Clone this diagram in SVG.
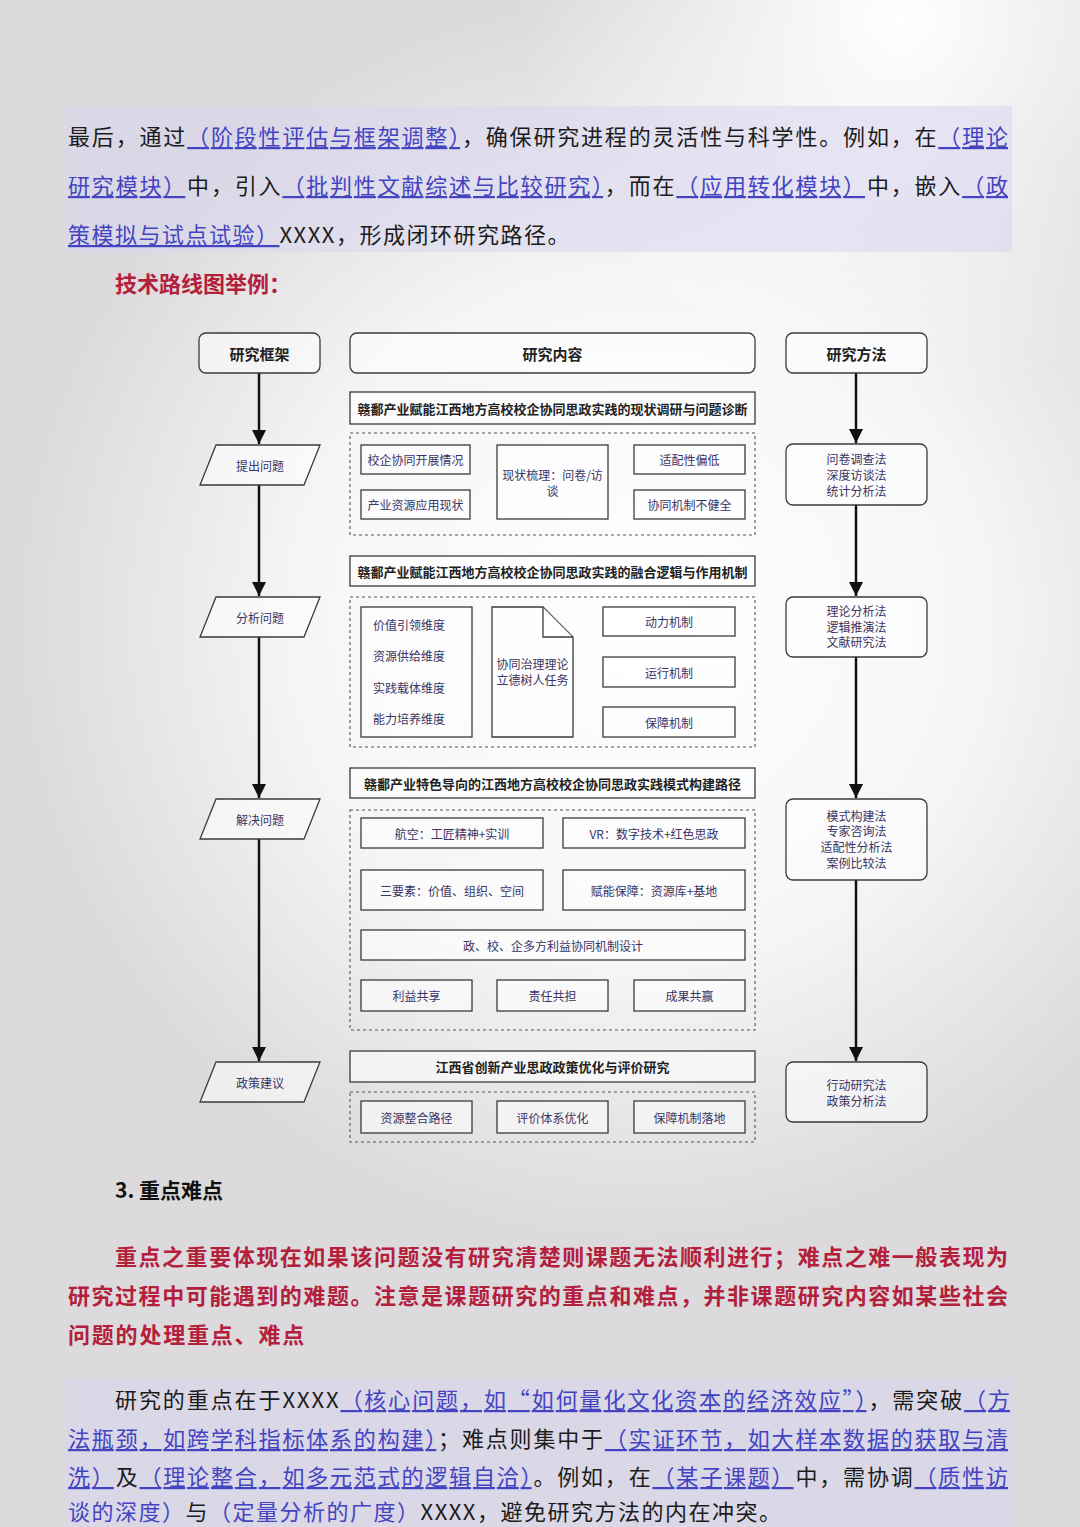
<svg xmlns="http://www.w3.org/2000/svg" width="1080" height="1527" viewBox="0 0 1080 1527">
<defs>
<radialGradient id="glow" cx="640" cy="620" r="620" gradientUnits="userSpaceOnUse">
<stop offset="0" stop-color="#ffffff" stop-opacity="1"/>
<stop offset="0.55" stop-color="#ffffff" stop-opacity="0.75"/>
<stop offset="1" stop-color="#ffffff" stop-opacity="0"/>
</radialGradient>
<radialGradient id="glow2" cx="900" cy="20" r="380" gradientUnits="userSpaceOnUse">
<stop offset="0" stop-color="#ffffff" stop-opacity="1"/>
<stop offset="1" stop-color="#ffffff" stop-opacity="0"/>
</radialGradient>
<marker id="arr" markerUnits="userSpaceOnUse" markerWidth="15" markerHeight="15" refX="14" refY="7" orient="auto">
<path d="M0,0 L14,7 L0,14 Z" fill="#111"/>
</marker>
<style>
.bt{font-family:"Noto Sans CJK SC","Noto Sans",sans-serif;font-size:22px;fill:#1c1c1c}
.bl{fill:#4444c2;text-decoration:underline}
.red{font-family:"Noto Sans CJK SC",sans-serif;font-size:22px;font-weight:bold;fill:#b3203c}
.box{fill:#ffffff;fill-opacity:0.55;stroke:#3b3b3b;stroke-width:1.3}
.dash{fill:none;stroke:#555;stroke-width:1.1;stroke-dasharray:3 3}
.t{font-family:"Noto Sans CJK SC",sans-serif;font-size:12px;fill:#3a3464;text-anchor:middle;dominant-baseline:central}
.tl{font-family:"Noto Sans CJK SC",sans-serif;font-size:12px;fill:#3a3464;dominant-baseline:central}
.tt{font-family:"Noto Sans CJK SC",sans-serif;font-size:13px;font-weight:bold;fill:#222;text-anchor:middle;dominant-baseline:central}
.th{font-family:"Noto Sans CJK SC",sans-serif;font-size:15px;font-weight:bold;fill:#222;text-anchor:middle;dominant-baseline:central}
.conn{stroke:#111;stroke-width:2.5;fill:none}
</style>
</defs>
<rect width="1080" height="1527" fill="#dcdadc"/>
<rect width="1080" height="1527" fill="url(#glow)"/>
<rect width="1080" height="1527" fill="url(#glow2)"/>

<!-- top paragraph -->
<rect x="66" y="106" width="946" height="146" fill="#d9d5ef" fill-opacity="0.55"/>
<text class="bt" x="68" y="145" textLength="940" lengthAdjust="spacing">最后，通过<tspan class="bl">（阶段性评估与框架调整）</tspan>，确保研究进程的灵活性与科学性。例如，在<tspan class="bl">（理论</tspan></text>
<text class="bt" x="68" y="194" textLength="940" lengthAdjust="spacing"><tspan class="bl">研究模块）</tspan>中，引入<tspan class="bl">（批判性文献综述与比较研究）</tspan>，而在<tspan class="bl">（应用转化模块）</tspan>中，嵌入<tspan class="bl">（政</tspan></text>
<text class="bt" x="68" y="243" letter-spacing="1.5"><tspan class="bl">策模拟与试点试验）</tspan>XXXX，形成闭环研究路径。</text>
<text class="red" x="115" y="292" font-size="21">技术路线图举例：</text>

<!-- connectors -->
<g id="connectors">
<line class="conn" x1="259" y1="373" x2="259" y2="444" marker-end="url(#arr)"/>
<line class="conn" x1="259" y1="485" x2="259" y2="596" marker-end="url(#arr)"/>
<line class="conn" x1="259" y1="637" x2="259" y2="798" marker-end="url(#arr)"/>
<line class="conn" x1="259" y1="839" x2="259" y2="1061" marker-end="url(#arr)"/>
<line class="conn" x1="856" y1="373" x2="856" y2="443" marker-end="url(#arr)"/>
<line class="conn" x1="856" y1="505" x2="856" y2="596" marker-end="url(#arr)"/>
<line class="conn" x1="856" y1="657" x2="856" y2="798" marker-end="url(#arr)"/>
<line class="conn" x1="856" y1="880" x2="856" y2="1061" marker-end="url(#arr)"/>
</g>

<!-- left column -->
<g id="n-framework"><rect class="box" x="199" y="333" width="121" height="40" rx="7"/><text class="th" x="259.5" y="353">研究框架</text></g>
<g id="n-raise"><polygon class="box" points="216,445 320,445 304,485 200,485"/><text class="t" x="260" y="465">提出问题</text></g>
<g id="n-analyze"><polygon class="box" points="216,597 320,597 304,637 200,637"/><text class="t" x="260" y="617">分析问题</text></g>
<g id="n-solve"><polygon class="box" points="216,799 320,799 304,839 200,839"/><text class="t" x="260" y="819">解决问题</text></g>
<g id="n-policy"><polygon class="box" points="216,1062 320,1062 304,1102 200,1102"/><text class="t" x="260" y="1082">政策建议</text></g>

<!-- middle column -->
<g id="n-content"><rect class="box" x="350" y="333" width="405" height="40" rx="7"/><text class="th" x="552.5" y="353">研究内容</text></g>

<g id="n-title1"><rect class="box" x="350" y="392" width="405" height="32"/><text class="tt" x="552.5" y="408">赣鄱产业赋能江西地方高校校企协同思政实践的现状调研与问题诊断</text></g>
<g id="n-group1">
<rect class="dash" x="350" y="433" width="405" height="102"/>
<rect class="box" x="361" y="445" width="109" height="29"/><text class="t" x="415.5" y="459.5">校企协同开展情况</text>
<rect class="box" x="361" y="490" width="109" height="29"/><text class="t" x="415.5" y="504.5">产业资源应用现状</text>
<rect class="box" x="497" y="445" width="111" height="74"/><text class="t" x="552.5" y="474">现状梳理：问卷/访</text><text class="t" x="552.5" y="490">谈</text>
<rect class="box" x="634" y="445" width="111" height="29"/><text class="t" x="689.5" y="459.5">适配性偏低</text>
<rect class="box" x="634" y="490" width="111" height="29"/><text class="t" x="689.5" y="504.5">协同机制不健全</text>
</g>

<g id="n-title2"><rect class="box" x="350" y="556" width="405" height="30"/><text class="tt" x="552.5" y="571">赣鄱产业赋能江西地方高校校企协同思政实践的融合逻辑与作用机制</text></g>
<g id="n-group2">
<rect class="dash" x="350" y="597" width="405" height="150"/>
<rect class="box" x="361" y="607" width="111" height="130"/>
<text class="tl" x="373" y="624">价值引领维度</text>
<text class="tl" x="373" y="655">资源供给维度</text>
<text class="tl" x="373" y="687">实践载体维度</text>
<text class="tl" x="373" y="718">能力培养维度</text>
<path class="box" d="M492,607 L543,607 L573,637 L573,737 L492,737 Z"/>
<path class="box" d="M543,607 L543,637 L573,637"/>
<text class="t" x="532.5" y="663">协同治理理论</text>
<text class="t" x="532.5" y="679">立德树人任务</text>
<rect class="box" x="603" y="607" width="132" height="29"/><text class="t" x="669" y="621.5">动力机制</text>
<rect class="box" x="603" y="657" width="132" height="30"/><text class="t" x="669" y="672">运行机制</text>
<rect class="box" x="603" y="707" width="132" height="30"/><text class="t" x="669" y="722">保障机制</text>
</g>

<g id="n-title3"><rect class="box" x="350" y="768" width="405" height="30"/><text class="tt" x="552.5" y="783">赣鄱产业特色导向的江西地方高校校企协同思政实践模式构建路径</text></g>
<g id="n-group3">
<rect class="dash" x="350" y="810" width="405" height="220"/>
<rect class="box" x="361" y="818" width="182" height="30"/><text class="t" x="452" y="833">航空：工匠精神+实训</text>
<rect class="box" x="563" y="818" width="182" height="30"/><text class="t" x="654" y="833">VR：数字技术+红色思政</text>
<rect class="box" x="361" y="870" width="182" height="40"/><text class="t" x="452" y="890">三要素：价值、组织、空间</text>
<rect class="box" x="563" y="870" width="182" height="40"/><text class="t" x="654" y="890">赋能保障：资源库+基地</text>
<rect class="box" x="361" y="930" width="384" height="30"/><text class="t" x="553" y="945">政、校、企多方利益协同机制设计</text>
<rect class="box" x="361" y="980" width="111" height="31"/><text class="t" x="416.5" y="995.5">利益共享</text>
<rect class="box" x="497" y="980" width="111" height="31"/><text class="t" x="552.5" y="995.5">责任共担</text>
<rect class="box" x="634" y="980" width="111" height="31"/><text class="t" x="689.5" y="995.5">成果共赢</text>
</g>

<g id="n-title4"><rect class="box" x="350" y="1051" width="405" height="31"/><text class="tt" x="552.5" y="1066.5">江西省创新产业思政政策优化与评价研究</text></g>
<g id="n-group4">
<rect class="dash" x="350" y="1092" width="405" height="50"/>
<rect class="box" x="361" y="1101" width="111" height="32"/><text class="t" x="416.5" y="1117">资源整合路径</text>
<rect class="box" x="497" y="1101" width="111" height="32"/><text class="t" x="552.5" y="1117">评价体系优化</text>
<rect class="box" x="634" y="1101" width="111" height="32"/><text class="t" x="689.5" y="1117">保障机制落地</text>
</g>

<!-- right column -->
<g id="n-method"><rect class="box" x="786" y="333" width="141" height="40" rx="7"/><text class="th" x="856.5" y="353">研究方法</text></g>
<g id="n-m1"><rect class="box" x="786" y="444" width="141" height="61" rx="7"/>
<text class="t" x="856.5" y="458">问卷调查法</text><text class="t" x="856.5" y="474">深度访谈法</text><text class="t" x="856.5" y="490">统计分析法</text></g>
<g id="n-m2"><rect class="box" x="786" y="597" width="141" height="60" rx="7"/>
<text class="t" x="856.5" y="610">理论分析法</text><text class="t" x="856.5" y="626">逻辑推演法</text><text class="t" x="856.5" y="641">文献研究法</text></g>
<g id="n-m3"><rect class="box" x="786" y="799" width="141" height="81" rx="7"/>
<text class="t" x="856.5" y="815">模式构建法</text><text class="t" x="856.5" y="830">专家咨询法</text><text class="t" x="856.5" y="846">适配性分析法</text><text class="t" x="856.5" y="862">案例比较法</text></g>
<g id="n-m4"><rect class="box" x="786" y="1062" width="141" height="60" rx="7"/>
<text class="t" x="856.5" y="1084">行动研究法</text><text class="t" x="856.5" y="1100">政策分析法</text></g>

<!-- section 3 -->
<text x="115" y="1198" font-family="Noto Sans CJK SC,sans-serif" font-size="21" font-weight="bold" fill="#111">3. 重点难点</text>
<text class="red" x="115" y="1265" textLength="893" lengthAdjust="spacing">重点之重要体现在如果该问题没有研究清楚则课题无法顺利进行；难点之难一般表现为</text>
<text class="red" x="68" y="1304" textLength="940" lengthAdjust="spacing">研究过程中可能遇到的难题。注意是课题研究的重点和难点，并非课题研究内容如某些社会</text>
<text class="red" x="68" y="1343" letter-spacing="1.8">问题的处理重点、难点</text>

<rect x="66" y="1378" width="946" height="149" fill="#d9d5ef" fill-opacity="0.55"/>
<text class="bt" x="115" y="1408" textLength="895" lengthAdjust="spacing">研究的重点在于XXXX<tspan class="bl">（核心问题，如“如何量化文化资本的经济效应”）</tspan>，需突破<tspan class="bl">（方</tspan></text>
<text class="bt" x="68" y="1447" textLength="940" lengthAdjust="spacing"><tspan class="bl">法瓶颈，如跨学科指标体系的构建）</tspan>；难点则集中于<tspan class="bl">（实证环节，如大样本数据的获取与清</tspan></text>
<text class="bt" x="68" y="1485" textLength="940" lengthAdjust="spacing"><tspan class="bl">洗）</tspan>及<tspan class="bl">（理论整合，如多元范式的逻辑自洽）</tspan>。例如，在<tspan class="bl">（某子课题）</tspan>中，需协调<tspan class="bl">（质性访</tspan></text>
<text class="bt" x="68" y="1520" letter-spacing="1.5"><tspan fill="#4444c2">谈的深度）</tspan>与<tspan fill="#4444c2">（定量分析的广度）</tspan>XXXX，避免研究方法的内在冲突。</text>
</svg>
